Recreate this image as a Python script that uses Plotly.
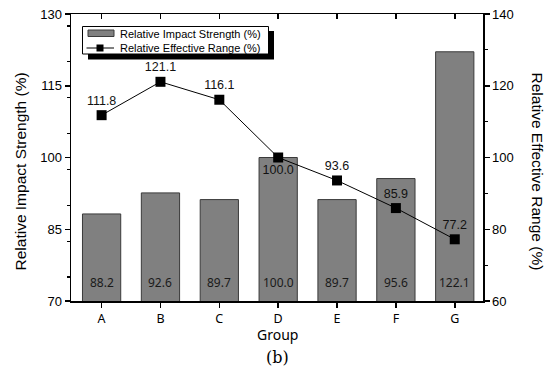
import plotly.graph_objects as go

groups = ["A", "B", "C", "D", "E", "F", "G"]
impact_strength = [88.2, 92.6, 91.2, 100.0, 91.2, 95.6, 122.1]
impact_labels = ["88.2", "92.6", "89.7", "100.0", "89.7", "95.6", "122.1"]
effective_range = [111.8, 121.1, 116.1, 100.0, 93.6, 85.9, 77.2]
range_label_pos = ["top center", "top center", "top center", "bottom center",
                   "top center", "top center", "top center"]
left_ticks = [70, 85, 100, 115, 130]
right_ticks = [60, 80, 100, 120, 140]
series_names = ["Relative Impact Strength (%)", "Relative Effective Range (%)"]

xs = list(range(len(groups)))

# plot-area geometry (pixels) used only for the hand-drawn legend and titles
PL, PT, PW, PH = 71, 14, 412, 287


def xp(px):
    return (px - PL) / PW


def yp(py):
    return (PT + PH - py) / PH


fig = go.Figure()
fig.add_trace(go.Bar(
    x=xs, y=impact_strength, name=series_names[0],
    marker=dict(color="#808080", line=dict(color="#3a3a3a", width=1)),
    width=0.65, yaxis="y", xaxis="x", hoverinfo="skip",
))
fig.add_trace(go.Scatter(
    x=xs, y=effective_range, name=series_names[1],
    mode="lines+markers+text", yaxis="y2", xaxis="x",
    line=dict(color="black", width=1),
    marker=dict(symbol="square", size=10, color="black"),
    text=[f"{v:.1f}" for v in effective_range], textposition=range_label_pos,
    textfont=dict(family="Liberation Sans, Arial", size=12.5, color="#111111"),
    cliponaxis=False, hoverinfo="skip",
))
# invisible copy so the top (mirror) category axis is drawn
fig.add_trace(go.Scatter(
    x=xs, y=effective_range, xaxis="x3", yaxis="y2", mode="markers",
    marker=dict(opacity=0), hoverinfo="skip", showlegend=False,
))

annotations = []
for x, lab in zip(xs, impact_labels):
    annotations.append(dict(x=x, y=70, xref="x", yref="y", text=lab, showarrow=False,
                            yanchor="bottom", yshift=8,
                            font=dict(family="Noto Sans, DejaVu Sans", size=12, color="#1a1a1a")))
annotations += [
    dict(x=xp(20), y=yp(171.5), xref="paper", yref="paper", text="Relative Impact Strength (%)",
         textangle=-90, showarrow=False, xanchor="center", yanchor="middle",
         font=dict(family="Liberation Sans, Arial", size=15.5, color="black")),
    dict(x=xp(537), y=yp(171.5), xref="paper", yref="paper", text="Relative Effective Range (%)",
         textangle=90, showarrow=False, xanchor="center", yanchor="middle",
         font=dict(family="Liberation Sans, Arial", size=15.5, color="black")),
    dict(x=0.5, y=yp(334), xref="paper", yref="paper", text="Group", showarrow=False,
         xanchor="center", yanchor="middle",
         font=dict(family="Noto Sans, DejaVu Sans", size=14, color="black")),
    dict(x=0.5, y=yp(357), xref="paper", yref="paper", text="(b)", showarrow=False,
         xanchor="center", yanchor="middle",
         font=dict(family="DejaVu Serif, Liberation Serif", size=16, color="black")),
    # legend texts
    dict(x=xp(117.5), y=yp(33.5), xref="paper", yref="paper", text=series_names[0],
         showarrow=False, xanchor="left", yanchor="middle",
         font=dict(family="Liberation Sans, Arial", size=11, color="black")),
    dict(x=xp(117.5), y=yp(48), xref="paper", yref="paper", text=series_names[1],
         showarrow=False, xanchor="left", yanchor="middle",
         font=dict(family="Liberation Sans, Arial", size=11, color="black")),
]

shapes = [
    # legend shadow and box
    dict(type="rect", xref="paper", yref="paper", x0=xp(88), x1=xp(274), y0=yp(59.5), y1=yp(31),
         fillcolor="black", line=dict(width=0), layer="above"),
    dict(type="rect", xref="paper", yref="paper", x0=xp(82.5), x1=xp(268.5), y0=yp(54), y1=yp(26.5),
         fillcolor="white", line=dict(color="black", width=1), layer="above"),
    # bar swatch
    dict(type="rect", xref="paper", yref="paper", x0=xp(88), x1=xp(114), y0=yp(36.5), y1=yp(30),
         fillcolor="#808080", line=dict(color="#3a3a3a", width=1), layer="above"),
    # line swatch
    dict(type="line", xref="paper", yref="paper", x0=xp(86.5), x1=xp(114), y0=yp(48), y1=yp(48),
         line=dict(color="black", width=1), layer="above"),
    dict(type="rect", xref="paper", yref="paper", x0=xp(96.5), x1=xp(103.5), y0=yp(51.5), y1=yp(44.5),
         fillcolor="black", line=dict(width=0), layer="above"),
]

tick_common = dict(showline=True, linecolor="black", linewidth=1.5, ticklen=5,
                   tickwidth=1.5, tickcolor="black", showgrid=False, zeroline=False)

fig.update_layout(
    width=546, height=367,
    margin=dict(l=PL, r=546 - PL - PW, t=PT, b=367 - PT - PH, autoexpand=False),
    paper_bgcolor="white", plot_bgcolor="white",
    showlegend=False, hovermode=False,
    xaxis=dict(range=[-0.52, 6.48], tickmode="array", tickvals=xs, ticktext=groups,
               ticks="outside", tickfont=dict(family="Noto Sans, DejaVu Sans", size=12.5, color="black"),
               **tick_common),
    xaxis3=dict(range=[-0.52, 6.48], overlaying="x", side="top", tickmode="array",
                tickvals=xs, showticklabels=False, ticks="inside", **tick_common),
    yaxis=dict(range=[70, 130], tickmode="array", tickvals=left_ticks, ticks="outside",
               tickfont=dict(family="Liberation Sans, Arial", size=13, color="black"),
               minor=dict(dtick=7.5, ticks="outside", ticklen=3, tickwidth=1.2, tickcolor="black"),
               **tick_common),
    yaxis2=dict(range=[60, 140], overlaying="y", side="right", tickmode="array",
                tickvals=right_ticks, ticks="outside",
                tickfont=dict(family="Liberation Sans, Arial", size=13, color="black"),
                minor=dict(dtick=10, ticks="outside", ticklen=3, tickwidth=1.2, tickcolor="black"),
                **tick_common),
    annotations=annotations,
    shapes=shapes,
)

fig.write_html("out.html", config={"displayModeBar": False, "staticPlot": True},
               post_script="document.body.style.margin='0px';")
